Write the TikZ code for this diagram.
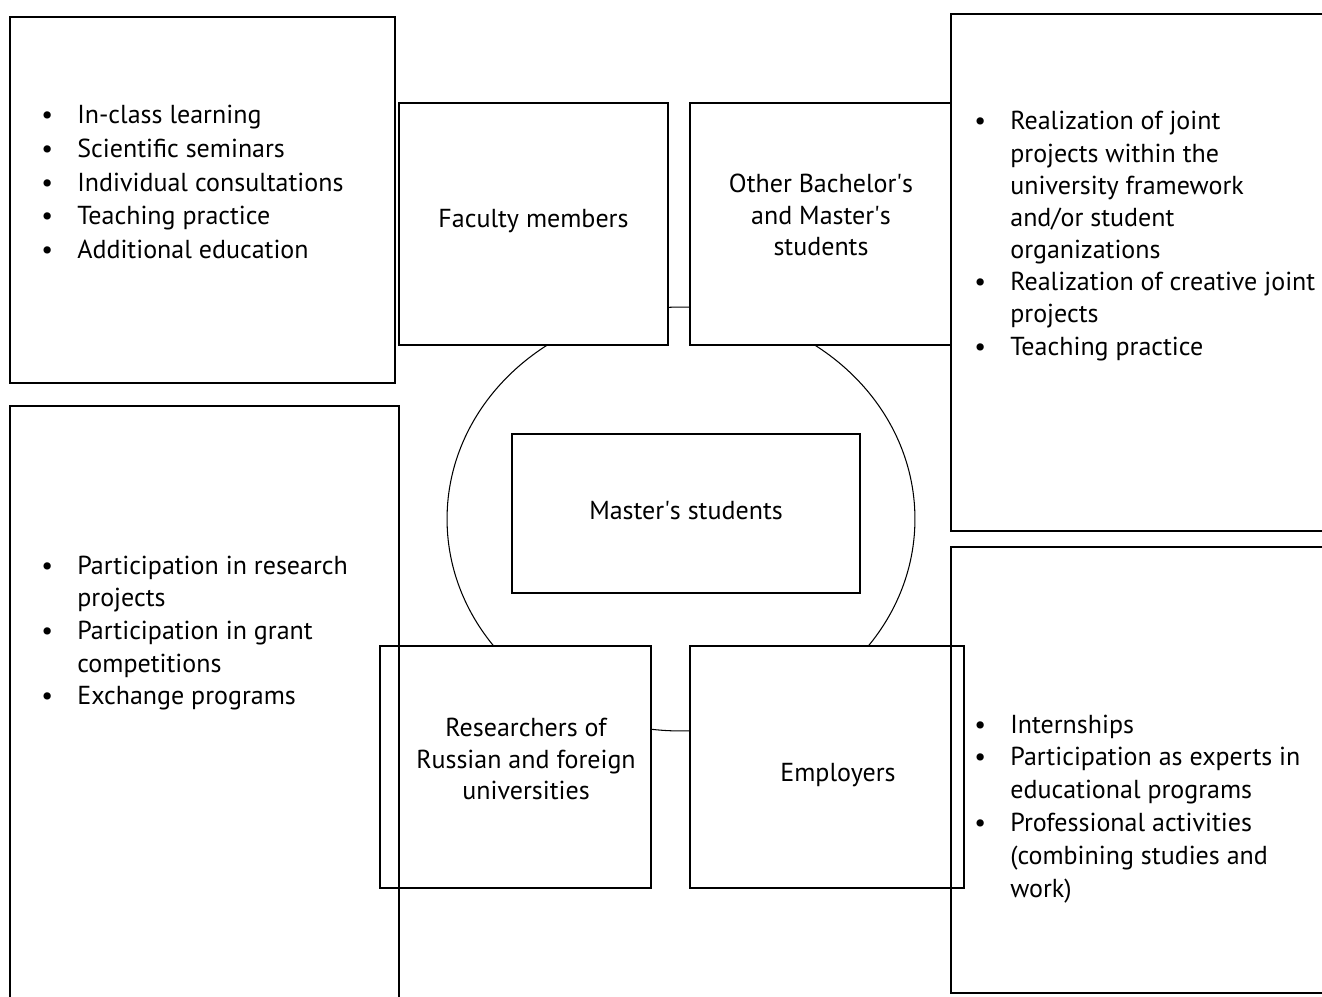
\documentclass[tikz,border=0pt]{standalone}
\usepackage{fontspec}
\setmainfont{PT Sans}
\usetikzlibrary{shapes.geometric}

\newcommand{\blt}{\makebox[0.72cm][l]{\textbullet}}
\newcommand{\gap}{\hspace*{0.72cm}}
\newcommand{\apo}{\textquotesingle}

\begin{document}
\begin{tikzpicture}[x=0.02cm, y=-0.02cm,
		every node/.style={font=\fontsize{14.8}{18.1}\selectfont},
		listbox/.style={draw, line width=0.9pt, inner sep=0pt},
		role/.style={draw, fill=white, line width=0.9pt, inner sep=0pt, minimum height=4.84cm},
		caption/.style={align=center, inner sep=0pt},
		items/.style={anchor=base west, inner sep=0pt, font=\fontsize{14.8}{#1}\selectfont}]
		\useasboundingbox (0,0) rectangle (1322,997);
		\clip (0,0) rectangle (1322,997);
		% ring behind the actors
		\node [ellipse, draw, line width=0.6pt, minimum width=9.36cm, minimum height=8.48cm, inner sep=0pt] (ring) at (681,519) {};
		% actors
		\node [role, minimum width=5.38cm] (faculty) at (533.5,224) {};
		\node [role, minimum width=5.22cm] (peers) at (820.5,224) {};
		\node [role, minimum width=5.42cm] (research) at (515.5,767) {};
		\node [role, minimum width=5.48cm] (employ) at (827,767) {};
		\node [draw, line width=1.4pt, minimum width=6.96cm, minimum height=3.18cm, inner sep=0pt] (master) at (686,513.5) {};
		\node [caption] (facultytxt) at (533.5,221) {Faculty members};
		\node [caption] (peerstxt) at (821,215) {Other Bachelor\apo s\\and Master\apo s\\students};
		\node [caption] (researchtxt) at (526,759) {Researchers of\\Russian and foreign\\universities};
		\node [caption] (employtxt) at (838,775) {Employers};
		\node [caption] (mastertxt) at (686,511) {Master\apo s students};
		% activity boxes
		\node [listbox, minimum width=7.7cm, minimum height=7.32cm] (tlbox) at (202.5,200) {};
		\node [listbox, minimum width=7.78cm, minimum height=12.08cm] (blbox) at (204.5,708) {};
		\node [listbox, minimum width=7.78cm, minimum height=10.34cm] (trbox) at (1145.5,272.5) {};
		\node [listbox, minimum width=7.78cm, minimum height=8.92cm] (brbox) at (1145.5,770) {};
		% activity lists
		\node [items=19.1pt] (tllist) at (41,124) {\begin{tabular}[t]{@{}l@{}}
			\blt In-class learning\\
			\blt Scientific seminars\\
			\blt Individual consultations\\
			\blt Teaching practice\\
			\blt Additional education
		\end{tabular}};
		\node [items=18.6pt] (bllist) at (41,574) {\begin{tabular}[t]{@{}l@{}}
			\blt Participation in research\\
			\gap projects\\
			\blt Participation in grant\\
			\gap competitions\\
			\blt Exchange programs
		\end{tabular}};
		\node [items=18.3pt] (trlist) at (974,130) {\begin{tabular}[t]{@{}l@{}}
			\blt Realization of joint\\
			\gap projects within the\\
			\gap university framework\\
			\gap and/or student\\
			\gap organizations\\
			\blt Realization of creative joint\\
			\gap projects\\
			\blt Teaching practice
		\end{tabular}};
		\node [items=18.7pt] (brlist) at (974,733) {\begin{tabular}[t]{@{}l@{}}
			\blt Internships\\
			\blt Participation as experts in\\
			\gap educational programs\\
			\blt Professional activities\\
			\gap (combining studies and\\
			\gap work)
		\end{tabular}};
	\end{tikzpicture}
\end{document}
